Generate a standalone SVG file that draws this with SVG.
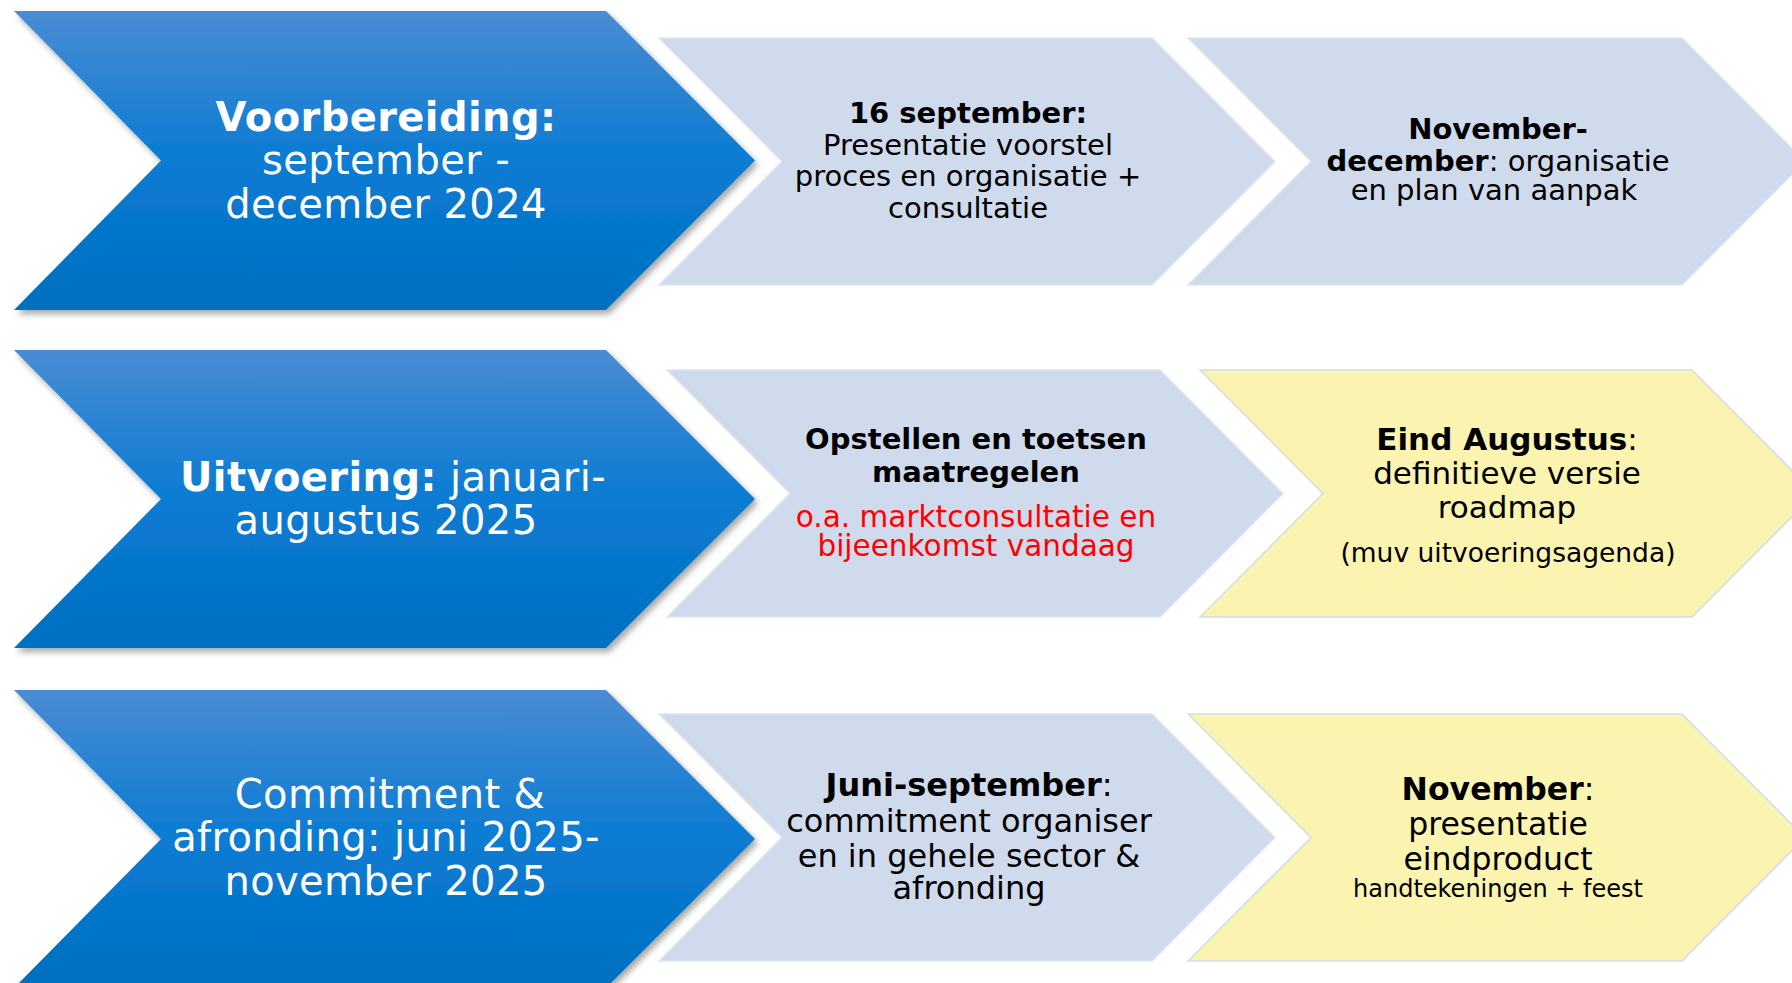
<svg xmlns="http://www.w3.org/2000/svg" width="1792" height="983" viewBox="0 0 1792 983">
<defs>
<linearGradient id="blueGrad" x1="0" y1="0" x2="0" y2="1">
<stop offset="0" stop-color="#4a8cd3"/>
<stop offset="0.5" stop-color="#0a7bd3"/>
<stop offset="1" stop-color="#0070c0"/>
</linearGradient>
<filter id="shadow" x="-5%" y="-5%" width="115%" height="115%">
<feDropShadow dx="3" dy="4" stdDeviation="3" flood-color="#000" flood-opacity="0.35"/>
</filter>
</defs>
<style>
.big{fill:url(#blueGrad);filter:url(#shadow)}
.light{fill:#cfdbec;stroke:#dde5f1;stroke-width:1.5}
.yellow{fill:#fbf3b0;stroke:#d3dbe8;stroke-width:1.5}
text{font-family:"DejaVu Sans","Verdana",sans-serif;text-anchor:middle}
.wt{fill:#ffffff;font-size:40px;letter-spacing:0.4px}
.bt{fill:#000000}
.b{font-weight:bold}
.red{fill:#ff0000}
</style>
<rect width="1792" height="983" fill="#ffffff"/>

<g id="phase1">
<path class="big" d="M14,11 L606,11 L755,160.5 L606,310 L14,310 L161,160.5 Z"/>
<text class="wt"><tspan class="b" x="386" y="131">Voorbereiding:</tspan><tspan x="386" y="174">september -</tspan><tspan x="386" y="218">december 2024</tspan></text>
</g>
<g id="step1a">
<path class="light" d="M659,38 L1152,38 L1275,161.5 L1152,285 L659,285 L782,161.5 Z"/>
<text class="bt" font-size="29"><tspan class="b" x="968" y="123">16 september:</tspan><tspan x="968" y="155">Presentatie voorstel</tspan><tspan x="968" y="186">proces en organisatie +</tspan><tspan x="968" y="218">consultatie</tspan></text>
</g>
<g id="step1b">
<path class="light" d="M1188,38 L1682,38 L1805,161.5 L1682,285 L1188,285 L1311,161.5 Z"/>
<text class="bt" font-size="29"><tspan class="b" x="1498" y="139">November-</tspan><tspan x="1498" y="171"><tspan class="b">december</tspan>: organisatie</tspan><tspan x="1494" y="200">en plan van aanpak</tspan></text>
</g>

<g id="phase2">
<path class="big" d="M14,350 L606,350 L755,499 L606,648 L14,648 L161,499 Z"/>
<text class="wt"><tspan x="393" y="491"><tspan class="b">Uitvoering:</tspan> januari-</tspan><tspan x="386" y="534">augustus 2025</tspan></text>
</g>
<g id="step2a">
<path class="light" d="M667,370 L1160,370 L1283,493.5 L1160,617 L667,617 L790,493.5 Z"/>
<text class="bt b" font-size="29"><tspan x="976" y="449">Opstellen en toetsen</tspan><tspan x="976" y="482">maatregelen</tspan></text>
<text class="red" font-size="29.5"><tspan x="976" y="527">o.a. marktconsultatie en</tspan><tspan x="976" y="556">bijeenkomst vandaag</tspan></text>
</g>
<g id="step2b">
<path class="yellow" d="M1200,370 L1692,370 L1815,493.5 L1692,617 L1200,617 L1323,493.5 Z"/>
<text class="bt" font-size="31"><tspan x="1507" y="450"><tspan class="b">Eind Augustus</tspan>:</tspan><tspan x="1507" y="484">definitieve versie</tspan><tspan x="1507" y="518">roadmap</tspan></text>
<text class="bt" font-size="26.5" x="1508" y="562">(muv uitvoeringsagenda)</text>
</g>

<g id="phase3">
<path class="big" d="M14,690 L606,690 L755,839 L606,988 L14,988 L161,839 Z"/>
<text class="wt"><tspan x="390" y="808">Commitment &amp;</tspan><tspan x="386" y="851">afronding: juni 2025-</tspan><tspan x="386" y="895">november 2025</tspan></text>
</g>
<g id="step3a">
<path class="light" d="M659,714 L1152,714 L1275,837.5 L1152,961 L659,961 L782,837.5 Z"/>
<text class="bt" font-size="32"><tspan x="969" y="796"><tspan class="b">Juni-september</tspan>:</tspan><tspan x="969" y="832">commitment organiser</tspan><tspan x="969" y="867">en in gehele sector &amp;</tspan><tspan x="969" y="899">afronding</tspan></text>
</g>
<g id="step3b">
<path class="yellow" d="M1188,714 L1682,714 L1805,837.5 L1682,961 L1188,961 L1311,837.5 Z"/>
<text class="bt" font-size="31.5"><tspan x="1498" y="800"><tspan class="b">November</tspan>:</tspan><tspan x="1498" y="835">presentatie</tspan><tspan x="1498" y="870">eindproduct</tspan></text>
<text class="bt" font-size="24" x="1498" y="897">handtekeningen + feest</text>
</g>

<g id="connectors"></g>
</svg>
